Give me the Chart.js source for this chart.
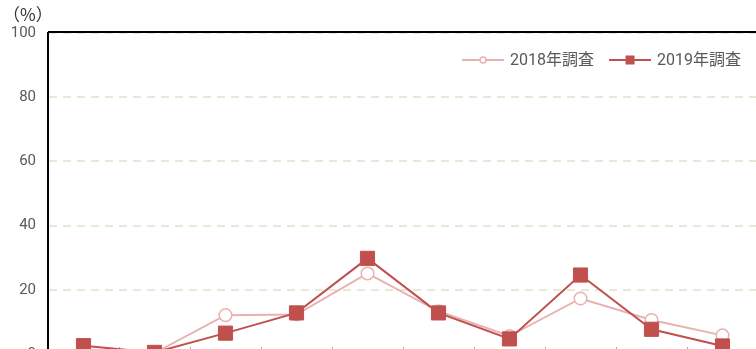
<!DOCTYPE html>
<html>
<head>
<meta charset="utf-8">
<script src="https://cdn.jsdelivr.net/npm/chart.js@4/dist/chart.umd.min.js"></script>
<style>
  html, body { margin: 0; padding: 0; background: #fff; overflow: hidden; width: 756px; height: 349px; }
  #wrap { position: absolute; left: 0; top: 0; width: 758px; height: 360px; }
</style>
</head>
<body>
<div id="wrap"><canvas id="c" width="758" height="360"></canvas></div>
<script>
// ---- data ----
const categories = ['1', '2', '3', '4', '5', '6', '7', '8', '9', '10'];
const series2018 = [1.5, 0.3, 12.1, 12.3, 25.1, 13.3, 5.6, 17.3, 10.6, 5.8];
const series2019 = [2.6, 0.5, 6.5, 12.8, 29.8, 12.8, 4.7, 24.6, 7.7, 2.5];
const seriesLabels = ['2018年調査', '2019年調査'];
const yTicks = [0, 20, 40, 60, 80, 100];
const unitLabel = '（%）';

const COL18 = '#e8b2b0';
const COL19 = '#c0504d';
const FONT = "Roboto, 'Noto Sans CJK JP', sans-serif";

function drawLegendIcon(g, kind, x0, y) {
  g.save();
  g.lineWidth = 2;
  g.strokeStyle = kind === 0 ? COL18 : COL19;
  g.beginPath(); g.moveTo(x0, y); g.lineTo(x0 + 42, y); g.stroke();
  if (kind === 0) {
    g.fillStyle = '#fff'; g.lineWidth = 1.5;
    g.beginPath(); g.arc(x0 + 21, y, 3, 0, Math.PI * 2); g.fill(); g.stroke();
  } else {
    g.fillStyle = COL19;
    g.fillRect(x0 + 16.5, y - 4.5, 9, 9);
  }
  g.restore();
}

const framePlugin = {
  id: 'frame',
  beforeDatasetsDraw(chart) {
    const { ctx, chartArea: a, scales: { x } } = chart;
    ctx.save();
    // inward tick marks at category boundaries
    ctx.strokeStyle = '#b0b0b0'; ctx.lineWidth = 1;
    for (let i = 0; i < categories.length - 1; i++) {
      const px = Math.round(x.getPixelForValue(i + 0.5)) + 0.5;
      ctx.beginPath(); ctx.moveTo(px, a.bottom); ctx.lineTo(px, a.bottom - 7); ctx.stroke();
    }
    // top frame line
    ctx.strokeStyle = '#000'; ctx.lineWidth = 2;
    ctx.beginPath(); ctx.moveTo(a.left, a.top - 1); ctx.lineTo(a.right, a.top - 1); ctx.stroke();
    ctx.restore();
  },
  afterDraw(chart) {
    const { ctx, chartArea: a } = chart;
    ctx.save();
    // unit label
    ctx.font = "17px 'Noto Sans CJK JP'";
    ctx.fillStyle = '#333';
    ctx.textBaseline = 'middle';
    ctx.textAlign = 'left';
    ctx.fillText(unitLabel, 3, 15);
    // legend (inside plot, top-right)
    ctx.font = '16px ' + FONT;
    ctx.fillStyle = '#595959';
    const y = a.top + 27;
    let xr = a.right - 17;
    for (let i = chart.data.datasets.length - 1; i >= 0; i--) {
      const t = chart.data.datasets[i].label;
      const w = ctx.measureText(t).width;
      ctx.fillText(t, xr - w, y + 1);
      drawLegendIcon(ctx, i, xr - w - 6 - 42, y);
      xr = xr - w - 6 - 42 - 15;
    }
    ctx.restore();
  }
};

new Chart(document.getElementById('c'), {
  type: 'line',
  data: {
    labels: categories,
    datasets: [
      {
        label: seriesLabels[0], data: series2018, order: 2,
        borderColor: COL18, borderWidth: 2,
        pointStyle: 'circle', pointRadius: 6.3, pointBorderWidth: 1.5,
        pointBackgroundColor: '#fff', pointBorderColor: COL18,
        tension: 0, clip: false
      },
      {
        label: seriesLabels[1], data: series2019, order: 1,
        borderColor: COL19, borderWidth: 2,
        pointStyle: 'rect', pointRadius: 10, pointBorderWidth: 1,
        pointBackgroundColor: COL19, pointBorderColor: COL19,
        tension: 0, clip: false
      }
    ]
  },
  options: {
    responsive: false,
    animation: false,
    devicePixelRatio: 1,
    layout: { autoPadding: false, padding: { left: 0, right: 0, top: 33, bottom: 6 } },
    plugins: {
      tooltip: { enabled: false },
      title: { display: false },
      legend: { display: false }
    },
    scales: {
      x: {
        type: 'category', offset: true, display: false,
        grid: { display: false }
      },
      y: {
        min: 0, max: 100,
        afterBuildTicks: (s) => { s.ticks = yTicks.map(v => ({ value: v })); },
        afterFit: (s) => { s.width = 48; s.paddingTop = 0; s.paddingBottom = 0; },
        ticks: { color: '#595959', font: { family: FONT, size: 15 }, padding: 12 },
        grid: { color: '#ebe6d5', lineWidth: 2, drawTicks: false },
        border: { display: true, color: '#000', width: 2, dash: [8, 6] }
      }
    }
  },
  plugins: [framePlugin]
});
</script>
</body>
</html>
